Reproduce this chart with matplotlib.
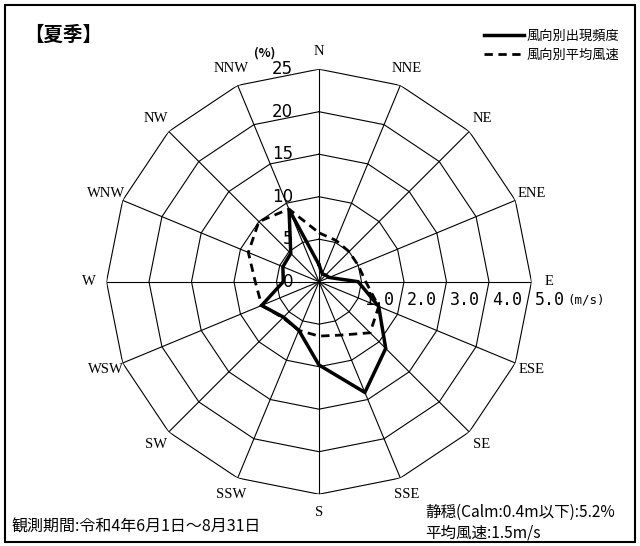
import numpy as np
import matplotlib
matplotlib.use("Agg")
import matplotlib.pyplot as plt
from matplotlib.patches import Rectangle

plt.rcParams["font.family"] = ["Noto Sans CJK JP", "DejaVu Sans"]

# 16 directions, clockwise from north
directions = ["N", "NNE", "NE", "ENE", "E", "ESE", "SE", "SSE",
              "S", "SSW", "SW", "WSW", "W", "WNW", "NW", "NNW"]
freq_pct = [2.0, 1.0, 1.1, 1.3, 4.6, 7.6, 11.1, 14.1,
            9.8, 6.2, 5.9, 7.3, 4.2, 4.6, 4.7, 9.2]          # 風向別出現頻度 (%)
speed_ms = [1.15, 1.05, 1.0, 1.0, 1.1, 1.52, 1.7, 1.36,
            1.28, 1.24, 1.2, 1.46, 1.5, 1.8, 2.0, 1.85]      # 風向別平均風速 (m/s)
freq_ticks = [0, 5, 10, 15, 20, 25]
speed_ticks = [1.0, 2.0, 3.0, 4.0, 5.0]
SPEED_TO_PCT = 5.0   # 1 m/s ring == 5 % ring

W, H = 640, 546
fig = plt.figure(figsize=(W / 100, H / 100), dpi=100)
cx, cy, R = 319, 281.7, 212.5
ax = fig.add_axes([(cx - R) / W, (H - cy - R) / H, 2 * R / W, 2 * R / H], projection="polar")
ax.set_theta_zero_location("N"); ax.set_theta_direction(-1)
ax.set_ylim(0, 25)
ax.grid(False); ax.set_xticks([]); ax.set_yticks([])
ax.spines["polar"].set_visible(False)

th = np.deg2rad(np.arange(16) * 22.5)
thc = np.append(th, th[0])
for r in freq_ticks[1:]:
    ax.plot(thc, [r] * 17, color="k", lw=0.8, zorder=1)
for t in th:
    ax.plot([t, t], [0, 25], color="k", lw=0.8, zorder=1)

l1, = ax.plot(thc, np.append(freq_pct, freq_pct[0]), color="k", lw=2.5, zorder=4,
              solid_joinstyle="miter", label="風向別出現頻度")
sp = np.array(speed_ms) * SPEED_TO_PCT
l2, = ax.plot(thc, np.append(sp, sp[0]), color="k", lw=2.0, ls=(0, (3, 2)), zorder=3,
              label="風向別平均風速")

for t, name in zip(th, directions):
    ax.text(t, 27.1, name, ha="center", va="center", fontsize=10.5,
            family="Liberation Serif", clip_on=False)

for v in freq_ticks:
    ax.annotate(str(v), xy=(0, v), xytext=(-26, 0), textcoords="offset pixels",
                ha="right", va="center", fontsize=12, family="DejaVu Sans")
ax.annotate("(%)", xy=(0, 25), xytext=(-54, 16), textcoords="offset pixels",
            ha="center", va="center", fontsize=9, fontweight="bold")
for v in speed_ticks:
    ax.annotate(f"{v:.1f}", xy=(np.pi / 2, v * SPEED_TO_PCT), xytext=(3, -18),
                textcoords="offset pixels", ha="left", va="center", fontsize=12,
                family="DejaVu Sans Mono")
ax.annotate("(m/s)", xy=(np.pi / 2, 25), xytext=(36, -18), textcoords="offset pixels",
            ha="left", va="center", fontsize=9, family="DejaVu Sans Mono")

fig.legend(handles=[l1, l2], loc="upper left", bbox_to_anchor=(484 / W, 1 - 30 / H),
           frameon=False, fontsize=9.5, handlelength=3.0, handletextpad=0.2,
           borderpad=0, borderaxespad=0, labelspacing=0.45)

fig.text(24 / W, 1 - 35 / H, "【夏季】", fontsize=14, fontweight="bold", ha="left", va="center")
fig.text(12 / W, 1 - 527 / H, "観測期間:令和4年6月1日～8月31日", fontsize=11.5, ha="left", va="center")
fig.text(425 / W, 1 - 512 / H, "静穏(Calm:0.4m以下):5.2%", fontsize=11.2, ha="left", va="center")
fig.text(425 / W, 1 - 533 / H, "平均風速:1.5m/s", fontsize=11.2, ha="left", va="center")

fig.add_artist(Rectangle((5 / W, 4 / H), 630 / W, 537 / H, transform=fig.transFigure,
                         fill=False, edgecolor="k", lw=1.5))

fig.savefig("out.png", dpi=100)
